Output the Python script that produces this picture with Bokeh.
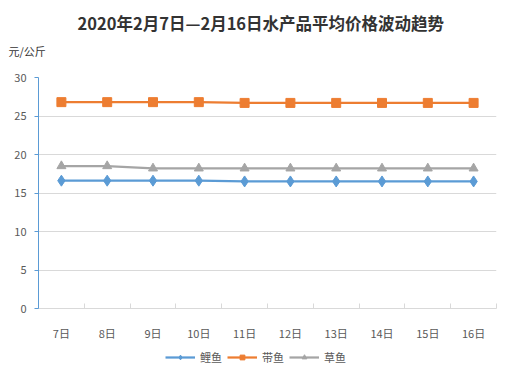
from bokeh.plotting import figure
from bokeh.layouts import column
from bokeh.models import FixedTicker, Range1d, Legend, LegendItem, Title, ColumnDataSource
from bokeh.embed import file_html
from bokeh.resources import INLINE

days = ["7日", "8日", "9日", "10日", "11日", "12日", "13日", "14日", "15日", "16日"]
carp = [16.6, 16.6, 16.6, 16.6, 16.5, 16.5, 16.5, 16.5, 16.5, 16.5]
hairtail = [26.8, 26.8, 26.8, 26.8, 26.7, 26.7, 26.7, 26.7, 26.7, 26.7]
grass_carp = [18.5, 18.5, 18.2, 18.2, 18.2, 18.2, 18.2, 18.2, 18.2, 18.2]
y_ticks = [0, 5, 10, 15, 20, 25, 30]

FONT = "Noto Sans CJK SC"
xs = list(range(len(days)))

p = figure(frame_width=458, frame_height=231, output_backend="svg", toolbar_location=None,
           x_range=Range1d(-0.5, len(days) - 0.5), y_range=Range1d(0, 30),
           min_border_left=38, min_border_right=25, min_border_top=77, min_border_bottom=30,
           title="2020年2月7日—2月16日水产品平均价格波动趋势")
p.outline_line_color = None
p.background_fill_color = "white"
p.border_fill_color = "white"

p.title.align = "left"
p.title.offset = 39
p.title.standoff = 6
p.title.text_font = FONT
p.title.text_font_size = "16.5px"
p.title.text_font_style = "bold"
p.title.text_color = "#333333"

unit_title = Title(text="元/公斤\n", align="left", offset=-30, standoff=6,
                   text_font=FONT, text_font_size="11px", text_font_style="normal",
                   text_color="#333333")
p.add_layout(unit_title, "above")

# x axis
p.xaxis.ticker = FixedTicker(ticks=xs, minor_ticks=[i + 0.5 for i in range(-1, len(days))])
p.xaxis.major_label_overrides = {i: d for i, d in enumerate(days)}
p.xaxis.major_tick_line_color = None
p.xaxis.major_tick_out = 0
p.xaxis.major_tick_in = 0
p.xaxis.minor_tick_in = 5
p.xaxis.minor_tick_out = 0
p.xaxis.minor_tick_line_color = "#d9d9d9"
p.xaxis.axis_line_color = "#d9d9d9"
p.xaxis.major_label_text_font = FONT
p.xaxis.major_label_text_font_size = "11px"
p.xaxis.major_label_text_color = "#595959"
p.xaxis.major_label_standoff = 16
p.xgrid.grid_line_color = None

# y axis
p.yaxis.ticker = FixedTicker(ticks=y_ticks)
p.yaxis.axis_line_color = "#5b9bd5"
p.yaxis.major_tick_line_color = "#5b9bd5"
p.yaxis.major_tick_out = 4
p.yaxis.major_tick_in = 0
p.yaxis.minor_tick_line_color = None
p.yaxis.major_label_text_font = FONT
p.yaxis.major_label_text_font_size = "11px"
p.yaxis.major_label_text_color = "#595959"
p.yaxis.major_label_standoff = 8
p.ygrid.grid_line_color = "#d9d9d9"

# legend strip as a second small figure below the chart
lf = figure(width=521, height=26, output_backend="svg", toolbar_location=None,
            x_range=Range1d(-0.5, len(days) - 0.5), y_range=Range1d(1000, 1001),
            min_border=0, x_axis_location=None, y_axis_location=None)
lf.outline_line_color = None
lf.grid.grid_line_color = None
lf.border_fill_color = "white"

series = [("鲤鱼", carp, "#5b9bd5", "diamond", 11),
          ("带鱼", hairtail, "#ed7d31", "square", 9),
          ("草鱼", grass_carp, "#a5a5a5", "triangle", 9)]
items = []
for name, vals, color, marker, size in series:
    src = ColumnDataSource(dict(x=xs, y=vals))
    p.line("x", "y", source=src, line_color=color, line_width=2.25)
    p.scatter("x", "y", source=src, marker=marker, size=size, fill_color=color, line_color=color)
    l = lf.line("x", "y", source=src, line_color=color, line_width=2.25)
    s = lf.scatter("x", "y", source=src, marker=marker, size=size, fill_color=color, line_color=color)
    items.append(LegendItem(label=name, renderers=[l, s]))

legend = Legend(items=items, orientation="horizontal", location=(127, 4),
                label_text_font=FONT, label_text_font_size="11px", label_text_color="#595959",
                border_line_color=None, background_fill_alpha=0, glyph_width=30, glyph_height=12,
                label_height=14, spacing=5, label_standoff=5, padding=2, margin=0)
lf.add_layout(legend, "center")

layout = column(p, lf, spacing=0)

open("out.html", "w").write(file_html(layout, INLINE))
